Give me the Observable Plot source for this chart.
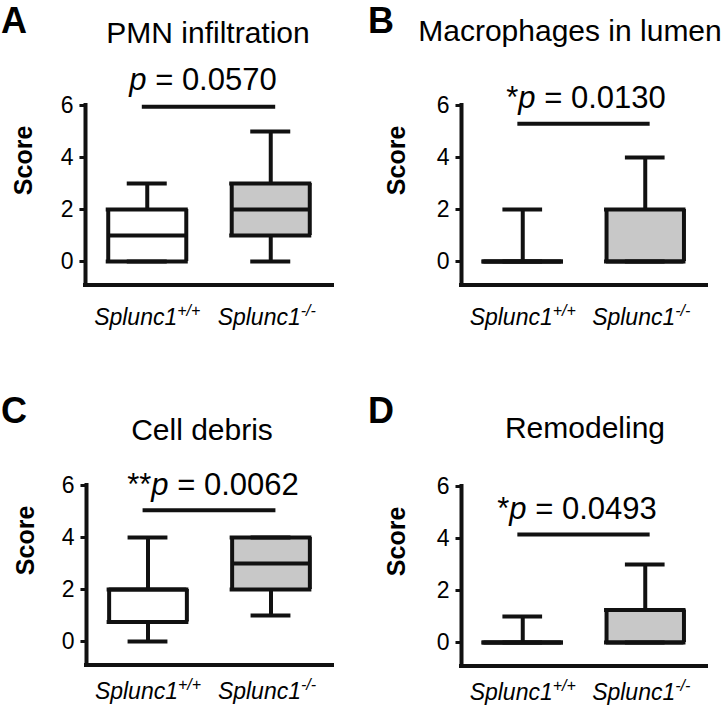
<!DOCTYPE html>
<html><head><meta charset="utf-8">
<script src="https://cdn.jsdelivr.net/npm/d3@7"></script>
<script src="https://cdn.jsdelivr.net/npm/@observablehq/plot@0.6"></script>
<style>
html,body{margin:0;padding:0;background:#fff;}
#fig{position:relative;width:727px;height:721px;font-family:"Liberation Sans",Arial,sans-serif;color:#000;overflow:hidden;background:#fff}
.panel{position:absolute}
.lbl{position:absolute;white-space:nowrap;line-height:1;color:#000}
</style></head><body><div id="fig"></div>
<script>
// ---- data ----
const genotypes = ["Splunc1", "Splunc1"];
const genotypeSup = ["+/+", "-/-"];
const panelLetters = ["A", "B", "C", "D"];
const panelTitles = ["PMN infiltration", "Macrophages in lumen", "Cell debris", "Remodeling"];
const pStars = ["", "*", "**", "*"];
const pValues = ["0.0570", "0.0130", "0.0062", "0.0493"];
const yTicks = [0, 2, 4, 6];
const yLabel = "Score";
// box statistics per panel: [Splunc1+/+, Splunc1-/-]
const minVals    = [[0, 0], [0, 0], [0, 1],    [0, 0]];
const q1Vals     = [[0, 1], [0, 0], [0.75, 2], [0, 0]];
const medianVals = [[1, 2], [0, 0], [2, 3],    [0, 0]];
const q3Vals     = [[2, 3], [0, 2], [2, 4],    [0, 1.25]];
const maxVals    = [[3, 5], [2, 4], [4, 4],    [1, 3]];
const bracketLevels = [5.95, 5.3, 5.05, 4.15];
const boxFills = ["#ffffff", "#c8c8c8"];

// ---- layout ----
const INK = "#111";
const xMin = -0.5, xMax = 1.5, yMin = -0.9, yMax = 6;
const bw = 0.316, cw = 0.162, tickLen = 0.045;
const layout = [
  {left: 0,   top: 0,   w: 363, h: 360, mL: 85, mR: 31, mT: 105, scoreDx: -62, labD: 47,
   letter: [1, 33], title: [208, 43], p: [203, 90]},
  {left: 363, top: 0,   w: 364, h: 360, mL: 98, mR: 21, mT: 105, scoreDx: -65, labD: 47,
   letter: [368, 33], title: [570, 41], p: [586, 108]},
  {left: 0,   top: 360, w: 363, h: 361, mL: 86, mR: 31, mT: 125, scoreDx: -61, labD: 41,
   letter: [1, 423], title: [202, 440], p: [213, 495]},
  {left: 363, top: 360, w: 364, h: 361, mL: 98, mR: 21, mT: 126, scoreDx: -65, labD: 41,
   letter: [368, 423], title: [585, 438], p: [577, 519]}
];
const K = 26; // px per score unit
const fig = document.getElementById("fig");

function addText(html, x, baseline, size, extra = {}, center = true) {
  const d = document.createElement("div");
  d.className = "lbl";
  d.innerHTML = html;
  d.style.fontSize = size + "px";
  d.style.left = x + "px";
  d.style.top = (baseline - 0.8465 * size) + "px";
  if (center) d.style.transform = "translateX(-50%)";
  Object.assign(d.style, extra);
  fig.appendChild(d);
}

layout.forEach((L, p) => {
  const rows = [0, 1].map(i => ({
    i, name: genotypes[i], sup: genotypeSup[i],
    min: minVals[p][i], q1: q1Vals[p][i], med: medianVals[p][i], q3: q3Vals[p][i], max: maxVals[p][i],
    fill: boxFills[i]
  }));
  const frameH = (yMax - yMin) * K;
  const mB = L.h - L.mT - frameH;
  const sw = 4;
  const svg = Plot.plot({
    width: L.w, height: L.h,
    marginLeft: L.mL, marginRight: L.mR, marginTop: L.mT, marginBottom: mB,
    style: {fontFamily: "'Liberation Sans', Arial, sans-serif", fontSize: "21px", color: "#000", background: "transparent", overflow: "visible"},
    x: {domain: [xMin, xMax], axis: null},
    y: {domain: [yMin, yMax], axis: null},
    color: {type: "identity"},
    marks: [
      // box fill
      Plot.rect(rows, {x1: d => d.i - bw, x2: d => d.i + bw, y1: "q1", y2: "q3", fill: "fill"}),
      // whiskers
      Plot.ruleX(rows, {x: "i", y1: "q3", y2: "max", stroke: INK, strokeWidth: sw}),
      Plot.ruleX(rows, {x: "i", y1: "min", y2: "q1", stroke: INK, strokeWidth: sw}),
      // caps
      Plot.ruleY(rows, {y: "max", x1: d => d.i - cw, x2: d => d.i + cw, stroke: INK, strokeWidth: sw}),
      Plot.ruleY(rows, {y: "min", x1: d => d.i - cw, x2: d => d.i + cw, stroke: INK, strokeWidth: sw}),
      // box outline
      Plot.ruleX(rows, {x: d => d.i - bw, y1: "q1", y2: "q3", stroke: INK, strokeWidth: sw}),
      Plot.ruleX(rows, {x: d => d.i + bw, y1: "q1", y2: "q3", stroke: INK, strokeWidth: sw}),
      Plot.ruleY(rows, {y: "q1", x1: d => d.i - bw, x2: d => d.i + bw, stroke: INK, strokeWidth: sw, strokeLinecap: "square"}),
      Plot.ruleY(rows, {y: "q3", x1: d => d.i - bw, x2: d => d.i + bw, stroke: INK, strokeWidth: sw, strokeLinecap: "square"}),
      Plot.ruleY(rows, {y: "med", x1: d => d.i - bw, x2: d => d.i + bw, stroke: INK, strokeWidth: sw}),
      // y axis: ticks and labels
      Plot.ruleY(yTicks, {y: d => d, x1: () => xMin - tickLen, x2: () => xMin, stroke: INK, strokeWidth: 3}),
      Plot.text(yTicks, {y: d => d, text: d => String(d), frameAnchor: "left", textAnchor: "end", dx: -12, fontSize: 23, fill: "#000"}),
      // axis lines
      Plot.ruleX([{x: xMin, y1: yMin, y2: yMax}], {x: "x", y1: "y1", y2: "y2", stroke: INK, strokeWidth: sw, strokeLinecap: "square"}),
      Plot.ruleY([{y: yMin, x1: xMin, x2: xMax}], {y: "y", x1: "x1", x2: "x2", stroke: INK, strokeWidth: sw, strokeLinecap: "square"}),
      // significance bracket
      Plot.ruleY([{y: bracketLevels[p], x1: -0.04, x2: 1.04}], {y: "y", x1: "x1", x2: "x2", stroke: INK, strokeWidth: sw}),
      // y label
      Plot.text([yLabel], {text: d => d, frameAnchor: "left", rotate: -90, dx: L.scoreDx, fontWeight: "bold", fontSize: 25, fill: "#000"}),
      // x labels (italic with superscript genotype)
      Plot.text(rows, {x: "i", text: "name", frameAnchor: "bottom", textAnchor: "end", dx: 30, dy: L.labD - 0.32 * 23, fontStyle: "italic", fontSize: 23, fill: "#000"}),
      Plot.text(rows, {x: "i", text: "sup", frameAnchor: "bottom", textAnchor: "start", dx: 30, dy: L.labD - 11 - 0.32 * 16, fontStyle: "italic", fontSize: 16, fill: "#000"})
    ]
  });
  const wrap = document.createElement("div");
  wrap.className = "panel";
  wrap.style.left = L.left + "px";
  wrap.style.top = L.top + "px";
  wrap.appendChild(svg);
  fig.appendChild(wrap);

  addText(panelLetters[p], L.letter[0], L.letter[1], 36, {fontWeight: "bold"}, false);
  addText(panelTitles[p], L.title[0], L.title[1], 30);
  addText(pStars[p] + "<i>p</i> = " + pValues[p], L.p[0], L.p[1], 31);
});
</script></body></html>
